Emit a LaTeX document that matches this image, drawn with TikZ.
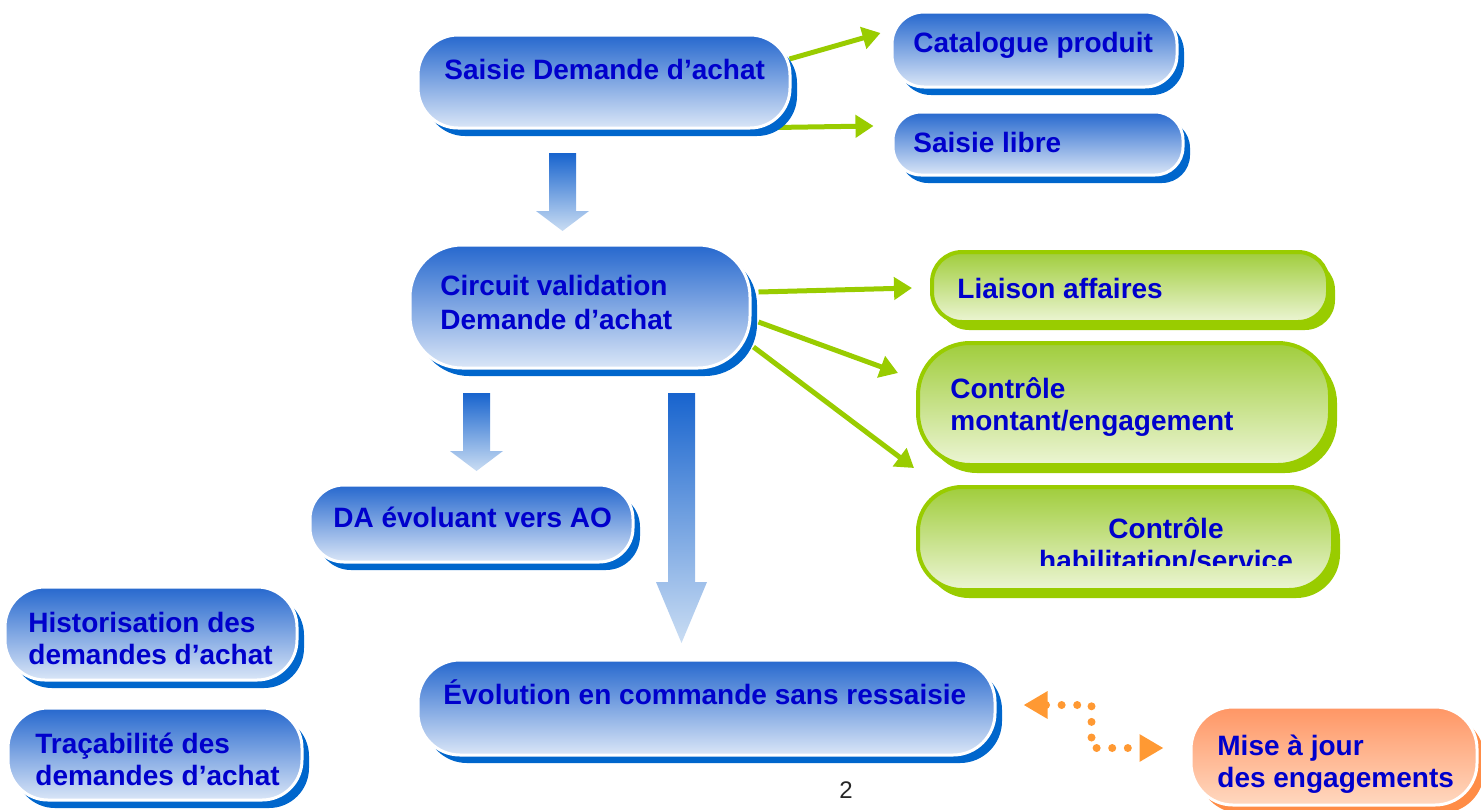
\documentclass[tikz,border=0pt]{standalone}
\usepackage{fontspec}
\setmainfont{Liberation Sans}
\usetikzlibrary{shadows,arrows.meta,backgrounds}

\definecolor{textblue}{RGB}{0,0,204}
\definecolor{pilltop}{RGB}{38,104,206}
\definecolor{pillmid}{RGB}{140,170,226}
\definecolor{pillbot}{RGB}{218,230,247}
\definecolor{pillshadow}{RGB}{0,102,204}
\definecolor{greenline}{RGB}{153,204,0}
\definecolor{greentop}{RGB}{160,205,60}
\definecolor{greenmid}{RGB}{205,228,140}
\definecolor{greenbot}{RGB}{236,245,212}
\definecolor{orangetop}{RGB}{255,150,100}
\definecolor{orangebot}{RGB}{255,216,192}
\definecolor{orangeshadow}{RGB}{255,140,70}
\definecolor{dotorange}{RGB}{255,153,51}
\definecolor{arrowtop}{RGB}{24,100,206}
\definecolor{arrowbot}{RGB}{202,221,243}

% fleche bloc vers le bas : x, haut, debut pointe, pointe, demi-pointe
\newcommand{\flechebas}[5]{%
	\shade[top color=arrowtop, bottom color=arrowbot]
		(#1-13.5,#2) -- (#1+13.5,#2) -- (#1+13.5,#3) -- (#1+#5,#3)
		-- (#1,#4) -- (#1-#5,#3) -- (#1-13.5,#3) -- cycle;}

\begin{document}
\begin{tikzpicture}[
		x=0.5pt, y=-0.5pt,
		pill/.style={
			rectangle,
			line width=1.5pt,
		},
		bluepill/.style={
			pill, draw=white,
			top color=pilltop, middle color=pillmid, bottom color=pillbot,
			drop shadow={shadow xshift=3.5pt, shadow yshift=-4pt, fill=pillshadow, opacity=1},
		},
		greenpill/.style={
			pill, draw=greenline, line width=2pt,
			top color=greentop, middle color=greenmid, bottom color=greenbot,
			drop shadow={shadow xshift=3.5pt, shadow yshift=-4pt, fill=greenline, opacity=1},
		},
		orangepill/.style={
			pill, draw=white,
			top color=orangetop, bottom color=orangebot,
			drop shadow={shadow xshift=3.5pt, shadow yshift=-4pt, fill=orangeshadow, opacity=1},
		},
		txt/.style={
			inner sep=0pt, anchor=north west, align=left,
			text=textblue, font=\fontsize{14}{16}\selectfont\bfseries,
		},
		greenarrow/.style={
			draw=greenline, line width=2.5pt,
			-{Triangle[length=9pt,width=11pt]},
		},
		dotlink/.style={
			draw=dotorange, line width=4pt, line cap=round,
			dash pattern=on 0pt off 7.8pt,
			{Triangle[length=12pt,width=13pt]}-{Triangle[length=12pt,width=13pt]},
		},
	]
		\useasboundingbox (0,0) rectangle (1481,809);

		% boites
		\node[bluepill, minimum width=186pt, minimum height=46.5pt, rounded corners=20pt] (saisie) at (604,81.5) {};
		\node[bluepill, minimum width=142.5pt, minimum height=37.5pt, rounded corners=16pt] (catalogue) at (1034.5,49.5) {};
		\node[bluepill, minimum width=145pt, minimum height=31.5pt, rounded corners=14pt] (libre) at (1038,143.5) {};
		\node[bluepill, minimum width=170pt, minimum height=61.5pt, rounded corners=26pt] (circuit) at (580,306.5) {};
		\node[greenpill, minimum width=198pt, minimum height=35pt, rounded corners=15pt] (liaison) at (1130,287) {};
		\node[greenpill, minimum width=206pt, minimum height=61pt, rounded corners=26pt] (montant) at (1124,404) {};
		\node[greenpill, minimum width=207.5pt, minimum height=51.5pt, rounded corners=22pt] (habil) at (1125.5,538.5) {};
		\node[bluepill, minimum width=161.5pt, minimum height=38.5pt, rounded corners=17pt] (da) at (471.5,523.5) {};
		\node[bluepill, minimum width=288.5pt, minimum height=47.5pt, rounded corners=21pt] (evolution) at (706.5,707.5) {};
		\node[bluepill, minimum width=146pt, minimum height=46.5pt, rounded corners=20pt] (histo) at (151,633.5) {};
		\node[bluepill, minimum width=147pt, minimum height=46pt, rounded corners=20pt] (trac) at (155,754) {};
		\node[orangepill, minimum width=143pt, minimum height=49pt, rounded corners=21pt] (mise) at (1334,756) {};

		% textes
		\node[txt] (saisieTxt) at (444,59) {Saisie Demande d’achat};
		\node[txt] (catalogueTxt) at (913,32) {Catalogue produit};
		\node[txt] (libreTxt) at (913,132) {Saisie libre};
		\node[txt, font=\fontsize{14}{17}\selectfont\bfseries] (circuitTxt) at (440,275) {Circuit validation\\Demande d’achat};
		\node[txt] (liaisonTxt) at (957,278) {Liaison affaires};
		\node[txt] (montantTxt) at (950,377) {Contrôle\\montant/engagement};
		\begin{scope}
			\clip (900,480) rectangle (1340,565);
			\node[txt, anchor=north, align=center] (habilTxt) at (1166,517) {Contrôle\\habilitation/service};
		\end{scope}
		\node[txt] (daTxt) at (333,507) {DA évoluant vers AO};
		\node[txt] (evolutionTxt) at (443,679) {Évolution en commande sans ressaisie};
		\node[txt] (histoTxt) at (28,612) {Historisation des\\demandes d’achat};
		\node[txt] (tracTxt) at (35,733) {Traçabilité des\\demandes d’achat};
		\node[txt] (miseTxt) at (1217,735) {Mise à jour\\des engagements};
		\node[font=\fontsize{12}{14}\selectfont, text=black!85, inner sep=0pt] (page) at (846,790) {2};

		% fleches blocs
		\flechebas{562.5}{153}{211}{231}{26.5}
		\flechebas{476.5}{393}{451}{471}{26.5}
		\flechebas{681.5}{393}{582}{643}{25.5}

		% fleches vertes
		\begin{scope}[on background layer]
			\draw[greenarrow] ([shift={(-2,-22.5)}]saisie.east) -- ([shift={(-10,-16.5)}]catalogue.west);
			\draw[greenarrow] ([shift={(-17,-2)}]saisie.south east) -- ([shift={(-18,-17.5)}]libre.west);
			\draw[greenarrow] ([shift={(7,-14.5)}]circuit.east) -- ([shift={(-18,1)}]liaison.west);
			\draw[greenarrow] ([shift={(7,15.5)}]circuit.east) -- ([shift={(-18,-31)}]montant.west);
			\draw[greenarrow] ([shift={(2,40.5)}]circuit.east) -- ([shift={(-2,-17)}]habil.north west);
		\end{scope}

		\draw[dotlink] ([shift={(27,-2.5)}]evolution.east) -| ([shift={(-98,-8)}]mise.west) -- ([shift={(-26,-8)}]mise.west);
	\end{tikzpicture}
\end{document}
